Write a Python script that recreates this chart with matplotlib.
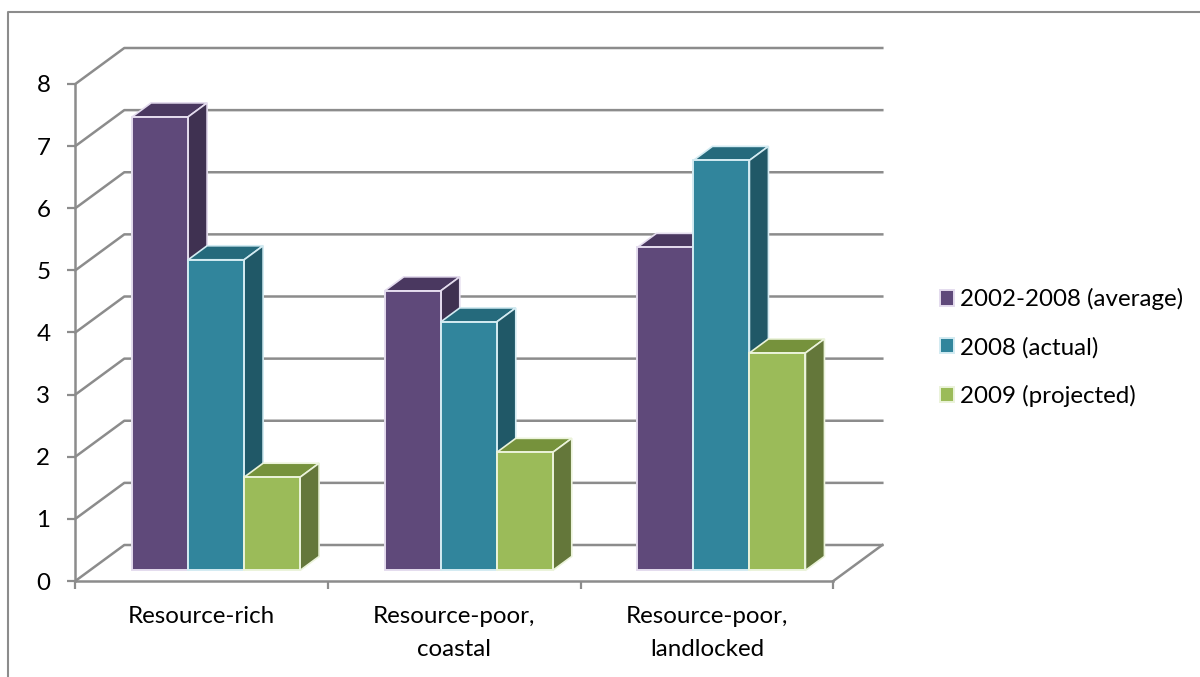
import matplotlib
matplotlib.use("Agg")
import matplotlib.pyplot as plt
from matplotlib.lines import Line2D
from matplotlib.patches import Polygon

plt.rcParams["font.family"] = ["Lato", "DejaVu Sans"]

categories = ["Resource-rich", "Resource-poor,\ncoastal", "Resource-poor,\nlandlocked"]
series_names = ["2002-2008 (average)", "2008 (actual)", "2009 (projected)"]
avg_values = [7.3, 4.5, 5.2]
actual_values = [5.0, 4.0, 6.6]
projected_values = [1.5, 1.9, 3.5]
y_ticks = [0, 1, 2, 3, 4, 5, 6, 7, 8]

front = ["#5F497A", "#31859C", "#9BBB59"]
top = ["#4A3860", "#256A7C", "#76923C"]
side = ["#3F3151", "#205867", "#64773A"]
edge = ["#E4DCEE", "#D3EBF2", "#EBF3DA"]
GRAY = "#8C8C8C"
FONT = 17.4

W, H = 1200, 677
fig = plt.figure(figsize=(12, 6.77), dpi=100)
ax = fig.add_axes([75.3 / W, (H - 581) / H, 758 / W, 497 / H])
ax.set_xlim(0, 3)
ax.set_ylim(0, 8)

# pixels to data units
ux = 758 / 3
uy = 497 / 8

# back wall and side wall
wall_dx, wall_dy = 49 / ux, 36 / uy
for v in y_ticks:
    ax.plot([0, wall_dx, 3 + wall_dx], [v, v + wall_dy, v + wall_dy],
            color=GRAY, lw=1.8, clip_on=False, zorder=1)
ax.plot([3, 3 + wall_dx], [0, wall_dy], color=GRAY, lw=1.8, clip_on=False, zorder=1)

# bars
bar_w = 56 / ux
start = 56.8 / ux
base = 10.6 / uy
dx, dy = 19 / ux, 14 / uy
all_values = [avg_values, actual_values, projected_values]
# draw back to front so the side faces get covered correctly
for j, vals in enumerate(all_values):
    xs = [i + start + j * bar_w for i in range(3)]
    ax.bar(xs, vals, width=bar_w, bottom=base, align="edge", color=front[j],
           edgecolor=edge[j], linewidth=1.4, label=series_names[j], zorder=3 + j,
           clip_on=False)
    for x, v in zip(xs, vals):
        y = base + v
        ax.add_patch(Polygon([(x, y), (x + dx, y + dy), (x + bar_w + dx, y + dy), (x + bar_w, y)],
                             facecolor=top[j], edgecolor=edge[j], lw=1.2, zorder=2.9 + j, clip_on=False))
        ax.add_patch(Polygon([(x + bar_w, base), (x + bar_w + dx, base + dy), (x + bar_w + dx, y + dy), (x + bar_w, y)],
                             facecolor=side[j], edgecolor=edge[j], lw=1.2, zorder=2.9 + j, clip_on=False))

for s in ["top", "right"]:
    ax.spines[s].set_visible(False)
for s in ["left", "bottom"]:
    ax.spines[s].set_color(GRAY)
    ax.spines[s].set_linewidth(1.8)
    ax.spines[s].set_zorder(2)

ax.set_yticks(y_ticks)
ax.set_xticks([0, 1, 2, 3])
ax.set_xticklabels([])
ax.set_xticks([0.5, 1.5, 2.5], minor=True)
ax.set_xticklabels(categories, minor=True, fontsize=FONT, linespacing=1.72, color="black")
ax.tick_params(axis="x", which="major", length=6, width=1.6, color=GRAY)
ax.tick_params(axis="x", which="minor", length=0, pad=18)
ax.tick_params(axis="y", length=6, width=1.6, color=GRAY, labelsize=FONT, pad=12)

ax.legend(loc="center left", bbox_to_anchor=(939.5 / W, (H - 347.5) / H), bbox_transform=fig.transFigure,
          frameon=False, fontsize=FONT, handlelength=0.6, handleheight=0.6, handletextpad=0.25,
          labelspacing=1.09, borderpad=0, borderaxespad=0)

# outer chart border, cut off at top right and bottom
fig.add_artist(Line2D([8 / W, 8 / W, 1], [0, (H - 12) / H, (H - 12) / H], color=GRAY, lw=1.5))

fig.savefig("out.png", dpi=100)
